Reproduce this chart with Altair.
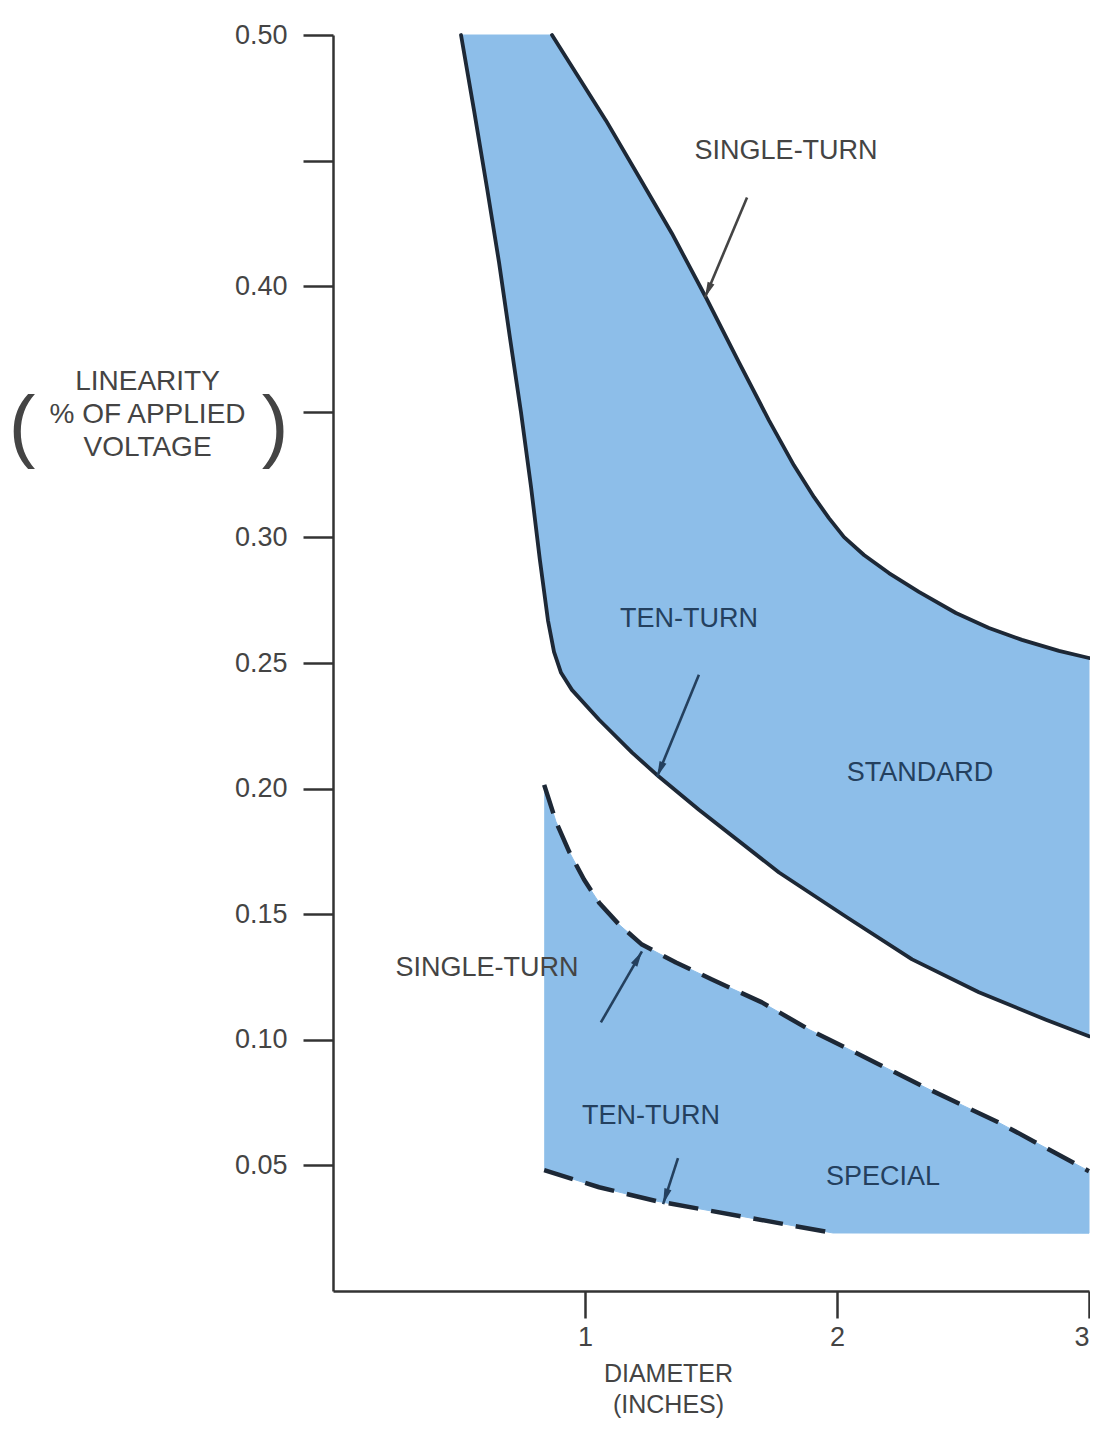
import altair as alt
import numpy as np
import pandas as pd

# ---------------- data ----------------
# STANDARD region: single-turn (upper) and ten-turn (lower) boundaries
STD_SINGLE_X = [0.869, 0.976, 1.083, 1.214, 1.345, 1.480, 1.611, 1.730, 1.829, 1.909, 1.968, 2.028,
                2.107, 2.206, 2.325, 2.472, 2.603, 2.734, 2.881, 3.0]
STD_SINGLE_Y = [0.500, 0.483, 0.466, 0.4436, 0.421, 0.3955, 0.3697, 0.3466, 0.3287, 0.316, 0.3077, 0.3001,
                0.293, 0.2858, 0.2783, 0.2699, 0.2639, 0.2592, 0.2548, 0.252]
STD_TEN_X = [0.508, 0.560, 0.611, 0.659, 0.702, 0.746, 0.786, 0.821, 0.853, 0.877, 0.905, 0.948, 1.056,
             1.187, 1.294, 1.452, 1.770, 2.036, 2.298, 2.563, 2.829, 3.0]
STD_TEN_Y = [0.500, 0.4698, 0.4392, 0.4094, 0.3796, 0.3498, 0.320, 0.291, 0.267, 0.2544, 0.2461, 0.2393,
             0.2274, 0.2143, 0.2047, 0.1916, 0.1666, 0.149, 0.132, 0.1189, 0.108, 0.1014]

# SPECIAL region: single-turn (upper, dashed) and ten-turn (lower, dashed) boundaries
SPC_SINGLE_X = [0.838, 0.885, 0.937, 0.996, 1.056, 1.135, 1.226, 1.361, 1.504, 1.702, 1.889, 2.167,
                2.365, 2.647, 3.0]
SPC_SINGLE_Y = [0.2015, 0.1868, 0.1749, 0.1638, 0.1546, 0.1459, 0.1379, 0.1308, 0.124, 0.1149, 0.1041,
                0.0902, 0.0803, 0.0668, 0.0477]
SPC_TEN_X = [0.838, 1.056, 1.282, 1.639, 1.984]
SPC_TEN_Y = [0.0481, 0.0413, 0.0358, 0.0294, 0.0231]
SPC_FLOOR_X = [3.0]
SPC_FLOOR_Y = [0.023]

# axes
Y_TICKS = [0.05, 0.10, 0.15, 0.20, 0.25, 0.30, 0.35, 0.40, 0.45, 0.50]
Y_UNLABELED = [0.35, 0.45]
X_TICKS = [1, 2, 3]
Y_TITLE = ["LINEARITY", "% OF APPLIED", "VOLTAGE"]
X_TITLE = ["DIAMETER", "(INCHES)"]

# annotations
LABEL_TEXT = ["SINGLE-TURN", "TEN-TURN", "STANDARD", "SINGLE-TURN", "TEN-TURN", "SPECIAL"]
LABEL_X = [1.798, 1.413, 2.329, 0.611, 1.262, 2.183]
LABEL_Y = [0.454, 0.2675, 0.2063, 0.1284, 0.0696, 0.0453]
LABEL_INSIDE = [False, True, True, False, True, True]

ARROW_X0 = [1.643, 1.452, 1.063, 1.369]
ARROW_Y0 = [0.4353, 0.2453, 0.1069, 0.0529]
ARROW_X1 = [1.476, 1.286, 1.226, 1.310]
ARROW_Y1 = [0.3955, 0.2047, 0.1352, 0.0346]
ARROW_OUTSIDE = [True, False, False, False]

# ---------------- style ----------------
FONT = "Liberation Sans, Arial, Helvetica, sans-serif"
BLUE = "#8dbee9"
INK = "#1d2836"
AXIS_INK = "#333333"
GRAY = "#444444"
NAVY = "#24405e"
W, H = 756, 1256
X_DOMAIN = [0, 3]
Y_DOMAIN = [0, 0.5]

xs = alt.Scale(domain=X_DOMAIN, nice=False, zero=False)
ys = alt.Scale(domain=Y_DOMAIN, nice=False, zero=False)

unl = " || ".join(f"abs(datum.value - {v}) < 1e-6" for v in Y_UNLABELED)
Y_AXIS = alt.Axis(
    values=Y_TICKS, format=".2f", labelExpr=f"({unl}) ? '' : datum.label",
    tickSize=30, tickWidth=2.5, tickColor=AXIS_INK, domainColor=AXIS_INK, domainWidth=2.5,
    labelFont=FONT, labelFontSize=27, labelColor=GRAY, labelPadding=16, labelFlush=False,
    grid=False, title=Y_TITLE, titleFont=FONT, titleFontSize=28, titleFontWeight="normal",
    titleColor=GRAY, titleAngle=0, titleAlign="center", titleBaseline="middle",
    titleX=-186, titleY=346, titleLineHeight=33, zindex=1,
)
X_AXIS = alt.Axis(
    values=X_TICKS, format="d",
    tickSize=27, tickWidth=2.5, tickColor=AXIS_INK, domainColor=AXIS_INK, domainWidth=2.5,
    labelFont=FONT, labelFontSize=27, labelColor=GRAY, labelPadding=6, labelFlush=True,
    grid=False, title=X_TITLE, titleFont=FONT, titleFontSize=25, titleFontWeight="normal",
    titleColor=GRAY, titleAlign="center", titleBaseline="middle",
    titleX=335, titleY=82, titleLineHeight=31, zindex=1,
)


def X(f):
    return alt.X(f"{f}:Q", scale=xs, axis=X_AXIS)


def Y(f):
    return alt.Y(f"{f}:Q", scale=ys, axis=Y_AXIS)


def pts(a, b):
    return list(zip(a, b))


# polygons built from the boundary lists
std_poly = [(STD_TEN_X[0], STD_TEN_Y[0])] + pts(STD_SINGLE_X, STD_SINGLE_Y) + pts(STD_TEN_X, STD_TEN_Y)[::-1]
spc_poly = pts(SPC_SINGLE_X, SPC_SINGLE_Y) + pts(SPC_FLOOR_X, SPC_FLOOR_Y) + pts(SPC_TEN_X, SPC_TEN_Y)[::-1]
poly_df = pd.DataFrame(
    [{"region": name, "i": i, "x": x, "y": y}
     for name, poly in [("standard", std_poly), ("special", spc_poly)]
     for i, (x, y) in enumerate(poly)]
)

fill = alt.Chart(poly_df).mark_line(fill=BLUE, stroke=BLUE, strokeWidth=1).encode(
    x=X("x"), y=Y("y"), detail="region:N", order="i:Q"
)


def line_df(lines):
    return pd.DataFrame(
        [{"line": name, "i": i, "x": x, "y": y}
         for name, (lx, ly) in lines.items() for i, (x, y) in enumerate(zip(lx, ly))]
    )


solid_df = line_df({"std_single": (STD_SINGLE_X, STD_SINGLE_Y), "std_ten": (STD_TEN_X, STD_TEN_Y)})
dash_df = line_df({"spc_single": (SPC_SINGLE_X, SPC_SINGLE_Y), "spc_ten": (SPC_TEN_X, SPC_TEN_Y)})

solid = alt.Chart(solid_df).mark_line(color=INK, strokeWidth=3.8, strokeCap="round", strokeJoin="round").encode(
    x=X("x"), y=Y("y"), detail="line:N", order="i:Q"
)
dashed = alt.Chart(dash_df).mark_line(color=INK, strokeWidth=4.5, strokeDash=[30, 13], strokeCap="butt",
                                      strokeJoin="round").encode(
    x=X("x"), y=Y("y"), detail="line:N", order="i:Q"
)

# arrows
arr = pd.DataFrame({"x0": ARROW_X0, "y0": ARROW_Y0, "x1": ARROW_X1, "y1": ARROW_Y1})
arr["ink"] = [GRAY if o else NAVY for o in ARROW_OUTSIDE]
px_x = W / (X_DOMAIN[1] - X_DOMAIN[0])
px_y = H / (Y_DOMAIN[1] - Y_DOMAIN[0])
dx = (arr["x1"] - arr["x0"]) * px_x
dy = -(arr["y1"] - arr["y0"]) * px_y
arr["angle"] = (np.degrees(np.arctan2(dx, -dy)) + 360) % 360

ARROW_SHAPE = "M0,0L0.4,1.7L-0.4,1.7Z"
shafts = alt.Chart(arr).mark_rule(strokeWidth=2.6).encode(
    x=X("x0"), y=Y("y0"), x2="x1:Q", y2="y1:Q", color=alt.Color("ink:N", scale=None)
)
heads = alt.Chart(arr).mark_point(shape=ARROW_SHAPE, filled=True, size=340, opacity=1, strokeWidth=0).encode(
    x=X("x1"), y=Y("y1"), angle=alt.Angle("angle:Q", scale=None), color=alt.Color("ink:N", scale=None)
)

# text labels
lab = pd.DataFrame({"text": LABEL_TEXT, "x": LABEL_X, "y": LABEL_Y,
                    "ink": [NAVY if v else GRAY for v in LABEL_INSIDE]})
texts = alt.Chart(lab).mark_text(font=FONT, fontSize=27, align="center", baseline="middle").encode(
    x=X("x"), y=Y("y"), text="text:N", color=alt.Color("ink:N", scale=None)
)

# big parentheses around the y-axis title
par_l = alt.Chart(pd.DataFrame({"t": ["("]})).mark_text(
    font=FONT, fontSize=80, color=GRAY, align="center", baseline="middle"
).encode(text="t:N", x=alt.value(-311), y=alt.value(393))
par_r = alt.Chart(pd.DataFrame({"t": [")"]})).mark_text(
    font=FONT, fontSize=80, color=GRAY, align="center", baseline="middle"
).encode(text="t:N", x=alt.value(-58), y=alt.value(393))

chart = alt.layer(fill, solid, dashed, shafts, heads, texts, par_l, par_r).properties(
    width=W, height=H,
    autosize=alt.AutoSizeParams(type="none"),
    padding={"left": 325, "top": 27, "right": 1, "bottom": 128},
    background="white",
).configure_view(strokeWidth=0)

chart.save("out.html", embed_options={"renderer": "svg", "actions": False})
